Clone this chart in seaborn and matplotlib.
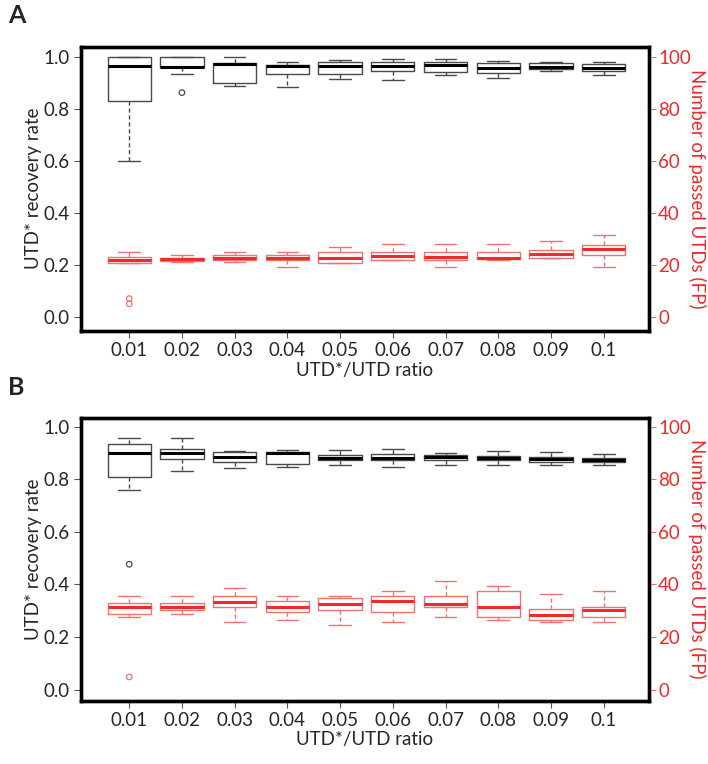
import numpy as np
import pandas as pd
import seaborn as sns
import matplotlib.pyplot as plt

ratios = ['0.01', '0.02', '0.03', '0.04', '0.05', '0.06', '0.07', '0.08', '0.09', '0.1']

# box summaries per ratio: (low whisker, q1, median, q3, high whisker)
rate_a = [(0.600, 0.832, 0.965, 1.000, 1.000),
          (0.933, 0.960, 0.963, 1.000, 1.000),
          (0.888, 0.901, 0.972, 0.975, 1.000),
          (0.885, 0.933, 0.966, 0.969, 0.980),
          (0.914, 0.933, 0.964, 0.981, 0.988),
          (0.912, 0.946, 0.967, 0.980, 0.991),
          (0.931, 0.944, 0.969, 0.982, 0.991),
          (0.918, 0.940, 0.959, 0.976, 0.985),
          (0.945, 0.954, 0.960, 0.976, 0.982),
          (0.930, 0.946, 0.959, 0.973, 0.982)]
fp_a = [(20.7, 20.7, 21.9, 23.0, 24.9),
        (20.9, 21.5, 22.2, 22.8, 23.8),
        (20.9, 21.8, 22.8, 23.8, 24.9),
        (19.0, 21.7, 22.8, 23.8, 24.9),
        (20.6, 20.6, 22.8, 24.9, 26.8),
        (21.7, 21.7, 23.5, 24.9, 28.0),
        (19.0, 21.7, 23.2, 24.9, 28.0),
        (21.7, 22.2, 22.8, 24.9, 28.0),
        (22.8, 22.8, 24.2, 25.8, 29.0),
        (19.0, 23.8, 26.0, 27.7, 31.5)]
rate_b = [(0.760, 0.810, 0.901, 0.933, 0.956),
          (0.833, 0.877, 0.900, 0.916, 0.957),
          (0.845, 0.868, 0.887, 0.906, 0.909),
          (0.849, 0.858, 0.900, 0.906, 0.913),
          (0.856, 0.872, 0.883, 0.894, 0.913),
          (0.849, 0.875, 0.881, 0.897, 0.915),
          (0.856, 0.872, 0.885, 0.892, 0.902),
          (0.853, 0.873, 0.880, 0.890, 0.909),
          (0.853, 0.868, 0.877, 0.885, 0.905),
          (0.853, 0.866, 0.875, 0.881, 0.897)]
fp_b = [(27.8, 28.8, 31.6, 32.8, 35.7),
        (28.8, 30.4, 31.6, 32.8, 35.7),
        (25.9, 31.6, 33.2, 35.7, 38.5),
        (26.6, 29.4, 31.6, 33.6, 35.7),
        (24.7, 30.4, 32.6, 34.7, 35.7),
        (25.6, 29.4, 33.6, 35.7, 37.6),
        (27.7, 31.4, 32.5, 35.7, 41.5),
        (26.6, 27.7, 31.6, 37.6, 39.4),
        (25.6, 26.6, 28.2, 30.6, 36.5),
        (25.6, 27.7, 30.1, 31.6, 37.6)]

# outliers: (ratio, value)
rate_a_out = [('0.02', 0.863)]
fp_a_out = [('0.01', 7.0), ('0.01', 5.0)]
rate_b_out = [('0.01', 0.477)]
fp_b_out = [('0.01', 4.8)]

BLACK_EDGE = '#4a4a4a'
RED_EDGE = '#f07272'
RED = '#ee2a2a'
FS = 13.5


def to_long(summary):
    rows = [(r, v) for r, stats in zip(ratios, summary) for v in stats]
    return pd.DataFrame(rows, columns=['ratio', 'value'])


def draw_boxes(ax, summary, outliers, edge, median):
    sns.boxplot(data=to_long(summary), x='ratio', y='value', order=ratios, ax=ax,
                whis=np.inf, width=0.82, fill=False, color=edge, linewidth=1.0,
                boxprops=dict(color=edge, linewidth=1.0),
                whiskerprops=dict(color=edge, linewidth=1.0, linestyle=(0, (3, 2))),
                capprops=dict(color=edge, linewidth=1.0),
                medianprops=dict(color=median, linewidth=2.2))
    out = pd.DataFrame(outliers, columns=['ratio', 'value'])
    sns.stripplot(data=out, x='ratio', y='value', order=ratios, ax=ax, jitter=False,
                  color=edge, facecolor='none', edgecolor=edge, linewidth=0.9, size=4)


def panel(ax, rate, fp, rate_out, fp_out, ylim, letter, ypos):
    ax2 = ax.twinx()
    draw_boxes(ax, rate, rate_out, BLACK_EDGE, 'black')
    draw_boxes(ax2, fp, fp_out, RED_EDGE, RED)
    ax.set_xlim(-0.92, 9.85)
    ax.set_ylim(*ylim)
    ax2.set_ylim(ylim[0] * 100, ylim[1] * 100)
    ax.set_yticks(np.arange(0, 1.01, 0.2))
    ax.set_yticklabels([f'{t:.1f}' for t in np.arange(0, 1.01, 0.2)])
    ax2.set_yticks(np.arange(0, 101, 20))
    ax.set_xlabel('UTD*/UTD ratio', fontsize=FS, labelpad=2)
    ax.set_ylabel('UTD* recovery rate', fontsize=FS, labelpad=1)
    ax2.set_xlabel('')
    ax2.set_ylabel('Number of passed UTDs (FP)', fontsize=FS, color=RED,
                   rotation=270, labelpad=11)
    ax.tick_params(axis='both', labelsize=FS, length=5, width=0.8, color='#555555', pad=3)
    ax2.tick_params(axis='y', labelsize=FS, length=5, width=0.8, color=RED_EDGE,
                    labelcolor=RED, pad=2)
    for a in (ax, ax2):
        for s in a.spines.values():
            s.set_linewidth(2.4)
            s.set_color('black')
    ax.figure.text(0.012, ypos, letter, fontsize=18, fontweight='bold', va='top')


sns.set_style('ticks')
plt.rcParams['font.family'] = ['Lato', 'DejaVu Sans']

fig = plt.figure(figsize=(7.08, 7.64), dpi=100)
ax_a = fig.add_axes([0.114, 0.567, 0.802, 0.372])
ax_b = fig.add_axes([0.114, 0.083, 0.802, 0.370])
panel(ax_a, rate_a, fp_a, rate_a_out, fp_a_out, (-0.054, 1.04), 'A', 0.995)
panel(ax_b, rate_b, fp_b, rate_b_out, fp_b_out, (-0.042, 1.034), 'B', 0.508)
fig.savefig('out.png', dpi=100)
